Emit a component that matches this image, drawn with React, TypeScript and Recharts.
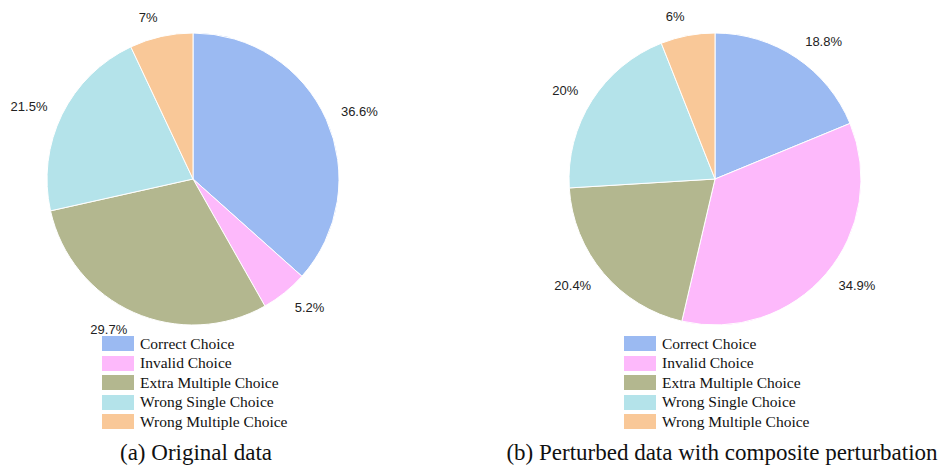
import { PieChart, Pie, Cell } from "recharts";

const categories = [
  "Correct Choice",
  "Invalid Choice",
  "Extra Multiple Choice",
  "Wrong Single Choice",
  "Wrong Multiple Choice",
];
const originalValues = [36.6, 5.2, 29.7, 21.5, 7];
const perturbedValues = [18.8, 34.9, 20.4, 20, 6];
const captions = ["(a) Original data", "(b) Perturbed data with composite perturbation"];

const COLORS = ["#9bbaf2", "#fdb9fb", "#b3b78f", "#b4e3ea", "#f9c898"];

const RADIAN = Math.PI / 180;

function toRows(values: number[]) {
  return categories.map((name, i) => ({ name, value: values[i] }));
}

function renderLabel(props: any) {
  const { cx, cy, midAngle, outerRadius, value } = props;
  const cos = Math.cos(-midAngle * RADIAN);
  const sin = Math.sin(-midAngle * RADIAN);
  const x = cx + outerRadius * 1.11 * cos;
  const y = cy + outerRadius * 1.13 * sin;
  return (
    <text
      x={x}
      y={y}
      textAnchor={cos >= 0 ? "start" : "end"}
      dominantBaseline="central"
      fontSize={13}
      fontFamily="'Liberation Sans', Arial, sans-serif"
      fill="#222"
    >
      {`${value}%`}
    </text>
  );
}

function LegendBox({ left }: { left: number }) {
  return (
    <div style={{ position: "absolute", left, top: 334 }}>
      {categories.map((c, i) => (
        <div
          key={c}
          style={{ display: "flex", alignItems: "center", height: 19.5 }}
        >
          <span
            style={{
              width: 32,
              height: 15,
              background: COLORS[i],
              marginRight: 6,
              display: "inline-block",
            }}
          />
          <span
            style={{
              fontFamily: "'Liberation Serif', 'Times New Roman', serif",
              fontSize: 15.5,
              color: "#111",
            }}
          >
            {c}
          </span>
        </div>
      ))}
    </div>
  );
}

export default function App() {
  const left = toRows(originalValues);
  const right = toRows(perturbedValues);
  return (
    <div
      style={{
        position: "absolute",
        left: 0,
        top: 0,
        width: 938,
        height: 470,
        background: "#fff",
      }}
    >
      <PieChart width={938} height={340} margin={{ top: 0, right: 0, bottom: 0, left: 0 }}>
        <Pie
          data={left}
          dataKey="value"
          nameKey="name"
          cx={193}
          cy={179}
          outerRadius={146}
          startAngle={90}
          endAngle={-270}
          stroke="#fff"
          strokeWidth={1}
          label={renderLabel}
          labelLine={false}
          isAnimationActive={false}
        >
          {left.map((_, i) => (
            <Cell key={i} fill={COLORS[i]} />
          ))}
        </Pie>
        <Pie
          data={right}
          dataKey="value"
          nameKey="name"
          cx={715}
          cy={179}
          outerRadius={146}
          startAngle={90}
          endAngle={-270}
          stroke="#fff"
          strokeWidth={1}
          label={renderLabel}
          labelLine={false}
          isAnimationActive={false}
        >
          {right.map((_, i) => (
            <Cell key={i} fill={COLORS[i]} />
          ))}
        </Pie>
      </PieChart>
      <LegendBox left={102} />
      <LegendBox left={624} />
      {captions.map((c, i) => (
        <div
          key={c}
          style={{
            position: "absolute",
            left: i === 0 ? 196 - 200 : 722 - 250,
            width: i === 0 ? 400 : 500,
            top: 440,
            textAlign: "center",
            fontFamily: "'Liberation Serif', 'Times New Roman', serif",
            fontSize: 23,
            color: "#111",
          }}
        >
          {c}
        </div>
      ))}
    </div>
  );
}
